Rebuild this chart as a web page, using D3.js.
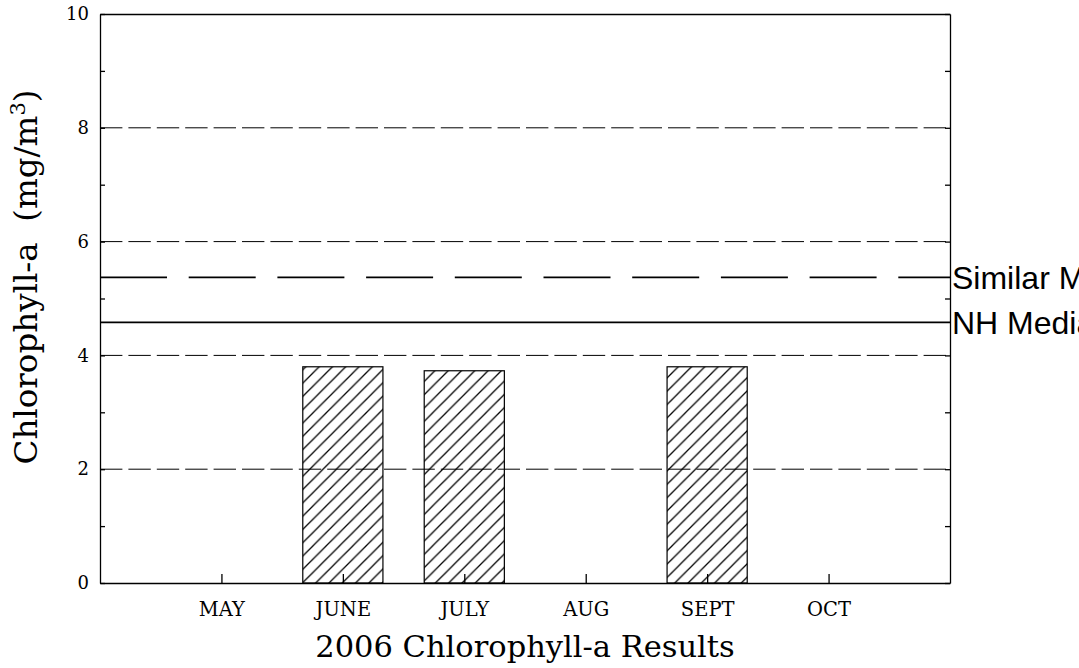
<!DOCTYPE html>
<html>
<head>
<meta charset="utf-8">
<script src="https://cdn.jsdelivr.net/npm/d3@7"></script>
<style>
  body { margin: 0; background: #fff; overflow: hidden; }
  svg { display: block; }
  .serif { font-family: "DejaVu Serif", serif; }
  .ref-label { font-family: "Liberation Sans", Arial, sans-serif; font-size: 32px; }
</style>
</head>
<body>
<div class="chart"></div>
<script>
// chart values
var months = ["MAY", "JUNE", "JULY", "AUG", "SEPT", "OCT"];
var chlorophyll = [null, 3.80, 3.73, null, 3.80, null];
var yTicks = [0, 2, 4, 6, 8, 10];
var minorTicks = [0, 1, 2, 3, 4, 5, 6, 7, 8, 9, 10];
var gridValues = [2, 4, 6, 8];
var refNames = ["Similar Median", "NH Median"];
var refValues = [5.37, 4.58];

var margin = { top: 14, right: 129, bottom: 85, left: 100 },
    width = 1079 - margin.left - margin.right,
    height = 668 - margin.top - margin.bottom;

var svg = d3.select(".chart").append("svg")
    .attr("width", 1079)
    .attr("height", 668);

// diagonal hatch for the bars
var defs = svg.append("defs");
var hatch = defs.append("pattern")
    .attr("id", "hatch")
    .attr("patternUnits", "userSpaceOnUse")
    .attr("width", 13.3)
    .attr("height", 13.3);
hatch.append("path")
    .attr("d", "M-3.3,3.3 L3.3,-3.3 M0,13.3 L13.3,0 M10,16.6 L16.6,10")
    .attr("stroke", "#000")
    .attr("stroke-width", 1.3);

var g = svg.append("g")
    .attr("transform", "translate(" + margin.left + "," + margin.top + ")");

var x = d3.scalePoint()
    .domain(months)
    .range([0, width])
    .padding(1);

var y = d3.scaleLinear()
    .domain([0, 10])
    .range([height, 0]);

var data = months.map(function(m, i) { return { month: m, value: chlorophyll[i] }; })
    .filter(function(d) { return d.value != null; });

var barWidth = x.step() * 0.66;

g.selectAll(".bar")
    .data(data)
  .enter().append("rect")
    .attr("class", "bar")
    .attr("x", function(d) { return x(d.month) - barWidth / 2; })
    .attr("y", function(d) { return y(d.value); })
    .attr("width", barWidth)
    .attr("height", function(d) { return height - y(d.value); })
    .attr("fill", "url(#hatch)")
    .attr("stroke", "#000")
    .attr("stroke-width", 1.2);

// dashed grid
g.selectAll(".grid")
    .data(gridValues)
  .enter().append("line")
    .attr("class", "grid")
    .attr("x1", 0)
    .attr("x2", width)
    .attr("y1", function(d) { return y(d); })
    .attr("y2", function(d) { return y(d); })
    .attr("stroke", "#000")
    .attr("stroke-width", 1)
    .attr("stroke-dasharray", "22.4,6");

// reference lines
g.selectAll(".ref")
    .data(refValues)
  .enter().append("line")
    .attr("class", "ref")
    .attr("x1", 0)
    .attr("x2", width)
    .attr("y1", function(d) { return y(d); })
    .attr("y2", function(d) { return y(d); })
    .attr("stroke", "#000")
    .attr("stroke-width", 1.8)
    .attr("stroke-dasharray", function(d, i) { return i === 0 ? "67,21.7" : null; });

g.selectAll(".ref-label")
    .data(refValues)
  .enter().append("text")
    .attr("class", "ref-label")
    .attr("x", width + 2)
    .attr("y", function(d) { return y(d); })
    .attr("dy", "0.36em")
    .text(function(d, i) { return refNames[i]; });

// axes
var leftAxis = d3.axisLeft(y)
    .tickValues(minorTicks)
    .tickSize(-5)
    .tickSizeOuter(0)
    .tickPadding(11)
    .tickFormat(function(d) { return d % 2 === 0 ? d : ""; });

var rightAxis = d3.axisRight(y)
    .tickValues(minorTicks)
    .tickSize(-5)
    .tickSizeOuter(0)
    .tickFormat("");

var bottomAxis = d3.axisBottom(x)
    .tickSize(-9)
    .tickSizeOuter(0)
    .tickPadding(19);

var topAxis = d3.axisTop(x)
    .tickSize(0)
    .tickSizeOuter(0)
    .tickFormat("");

function styleAxis(size) {
  return function(sel) {
    sel.selectAll("path, line").attr("stroke", "#000").attr("stroke-width", 1.3);
    sel.selectAll("text")
      .attr("class", "serif")
      .attr("fill", "#000")
      .style("font-size", size + "px");
  };
}

g.append("g").call(leftAxis).call(styleAxis(18));
g.append("g").attr("transform", "translate(" + width + ",0)").call(rightAxis).call(styleAxis(18));
g.append("g").attr("transform", "translate(0," + height + ")").call(bottomAxis).call(styleAxis(19.5));
g.append("g").call(topAxis).call(styleAxis(18));

// titles
svg.append("text")
    .attr("class", "serif")
    .attr("x", margin.left + width / 2)
    .attr("y", 656.5)
    .attr("text-anchor", "middle")
    .style("font-size", "30.5px")
    .text("2006 Chlorophyll-a Results");

var yLabel = svg.append("text")
    .attr("class", "serif")
    .attr("transform", "translate(37,277) rotate(-90)")
    .attr("text-anchor", "middle")
    .style("font-size", "32.5px")
    .attr("xml:space", "preserve");
yLabel.append("tspan").text("Chlorophyll-a  (mg/m");
yLabel.append("tspan").attr("baseline-shift", "super").style("font-size", "21px").text("3");
yLabel.append("tspan").text(")");
</script>
</body>
</html>
